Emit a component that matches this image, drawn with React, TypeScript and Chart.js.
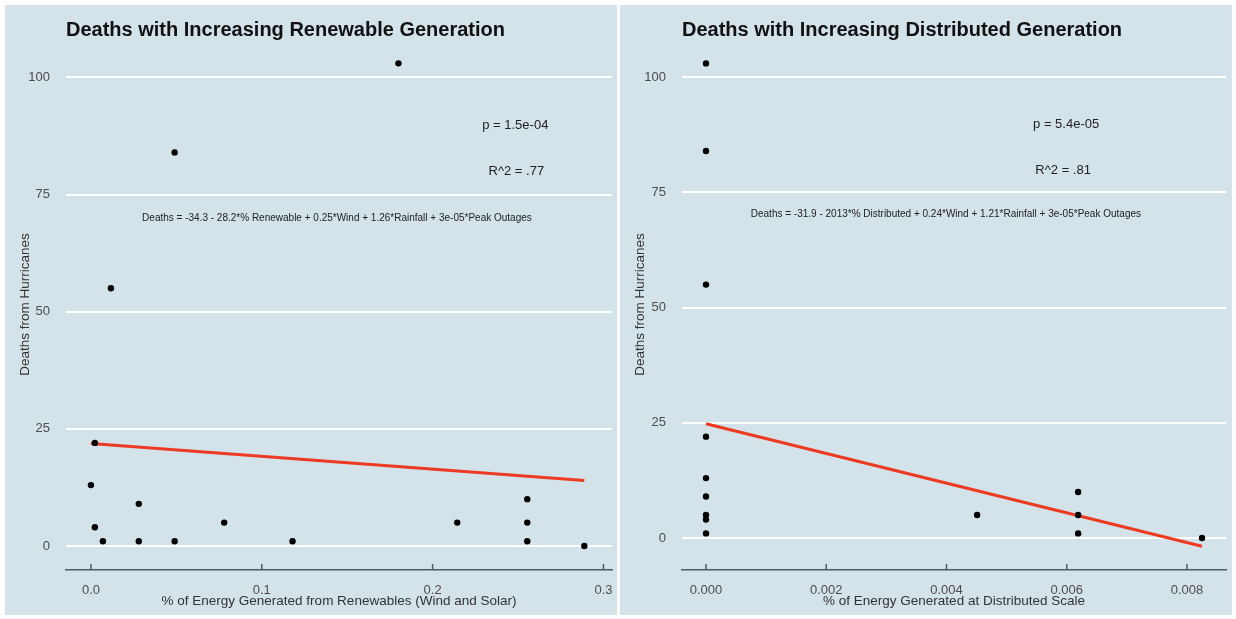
import React, { useEffect, useRef } from "react";
import { Chart, registerables } from "chart.js";
Chart.register(...registerables);

// ---------- data ----------
const renewShare = [0.18, 0.049, 0.0117, 0.0023, 0, 0.0023, 0.007, 0.028, 0.028, 0.049, 0.078, 0.118, 0.2144, 0.2554, 0.2554, 0.2554, 0.2888];
const renewDeaths = [103, 84, 55, 22, 13, 4, 1, 9, 1, 1, 5, 1, 5, 10, 5, 1, 0];
const renewFitX = [0, 0.2888];
const renewFitY = [21.9, 14.0];

const distShare = [0, 0, 0, 0, 0, 0, 0, 0, 0, 0.00451, 0.00619, 0.00619, 0.00619, 0.00825];
const distDeaths = [103, 84, 55, 22, 13, 9, 5, 4, 1, 5, 10, 5, 1, 0];
const distFitX = [0, 0.00825];
const distFitY = [24.8, -1.8];

const yTickValues = [0, 25, 50, 75, 100];
const renewXTicks = [0, 0.1, 0.2, 0.3];
const distXTicks = [0, 0.002, 0.004, 0.006, 0.008];

const renewTitle = "Deaths with Increasing Renewable Generation";
const distTitle = "Deaths with Increasing Distributed Generation";
const yTitle = "Deaths from Hurricanes";
const renewXTitle = "% of Energy Generated from Renewables (Wind and Solar)";
const distXTitle = "% of Energy Generated at Distributed Scale";

const renewNotes = [
  { text: "p = 1.5e-04", x: 0.2484, y: 89.8, size: 13 },
  { text: "R^2 = .77", x: 0.249, y: 80, size: 13 },
  { text: "Deaths = -34.3 - 28.2*% Renewable + 0.25*Wind + 1.26*Rainfall + 3e-05*Peak Outages", x: 0.144, y: 69.9, size: 10 },
];
const distNotes = [
  { text: "p = 5.4e-05", x: 0.00599, y: 89.8, size: 13 },
  { text: "R^2 = .81", x: 0.00594, y: 79.8, size: 13 },
  { text: "Deaths = -31.9 - 2013*% Distributed + 0.24*Wind + 1.21*Rainfall + 3e-05*Peak Outages", x: 0.00399, y: 70.3, size: 10 },
];

const FONT = "'Liberation Sans', Arial, Helvetica, sans-serif";
const PANEL_BG = "#d4e2e9";

type PanelCfg = {
  xs: number[];
  ys: number[];
  fitX: number[];
  fitY: number[];
  xTicks: number[];
  decimals: number;
  xMin: number;
  xMax: number;
  yMin: number;
  yMax: number;
  title: string;
  xTitle: string;
  notes: { text: string; x: number; y: number; size: number }[];
  yWidth: number;
  padRight: number;
};

function Panel({ cfg }: { cfg: PanelCfg }) {
  const ref = useRef<HTMLCanvasElement | null>(null);
  useEffect(() => {
    const deco = {
      id: "deco",
      afterDraw(chart: any) {
        const ctx = chart.ctx;
        const xs = chart.scales.x;
        const ysc = chart.scales.y;
        const area = chart.chartArea;
        ctx.save();
        // inward tick marks on x axis
        ctx.strokeStyle = "#4f5a63";
        ctx.lineWidth = 1.5;
        for (const t of cfg.xTicks) {
          const px = xs.getPixelForValue(t);
          ctx.beginPath();
          ctx.moveTo(px, area.bottom);
          ctx.lineTo(px, area.bottom - 6);
          ctx.stroke();
        }
        // title
        ctx.fillStyle = "#111";
        ctx.font = `bold 20px ${FONT}`;
        ctx.textAlign = "left";
        ctx.textBaseline = "middle";
        ctx.fillText(cfg.title, area.left, 25);
        // annotations
        ctx.fillStyle = "#222";
        ctx.textAlign = "center";
        for (const n of cfg.notes) {
          ctx.font = `${n.size}px ${FONT}`;
          ctx.fillText(n.text, xs.getPixelForValue(n.x), ysc.getPixelForValue(n.y));
        }
        ctx.restore();
      },
    };
    const chart = new Chart(ref.current as HTMLCanvasElement, {
      type: "scatter",
      data: {
        datasets: [
          {
            type: "scatter",
            data: cfg.xs.map((x, i) => ({ x, y: cfg.ys[i] })),
            pointRadius: 3.2,
            pointBackgroundColor: "#000",
            pointBorderWidth: 0,
            order: 1,
          } as any,
          {
            type: "line",
            data: cfg.fitX.map((x, i) => ({ x, y: cfg.fitY[i] })),
            borderColor: "#ee3a22",
            borderWidth: 3,
            pointRadius: 0,
            showLine: true,
            fill: false,
            order: 2,
          } as any,
        ],
      },
      options: {
        animation: false,
        responsive: false,
        devicePixelRatio: 1,
        layout: { padding: { top: 34, right: cfg.padRight, bottom: 0, left: 0 } },
        plugins: { legend: { display: false }, tooltip: { enabled: false } },
        scales: {
          x: {
            type: "linear",
            min: cfg.xMin,
            max: cfg.xMax,
            afterBuildTicks: (s: any) => {
              s.ticks = cfg.xTicks.map((v) => ({ value: v }));
            },
            afterFit: (s: any) => {
              s.height = 45;
              s.paddingLeft = 0;
              s.paddingRight = 0;
            },
            ticks: {
              callback: (v: any) => Number(v).toFixed(cfg.decimals),
              color: "#4d4d4d",
              font: { family: FONT, size: 13 },
              padding: 13,
              maxRotation: 0,
              autoSkip: false,
            },
            grid: { display: false, drawTicks: false },
            border: { display: true, color: "#4f5a63", width: 1.5 },
            title: {
              display: true,
              text: cfg.xTitle,
              color: "#333",
              font: { family: FONT, size: 13.5 },
              padding: { top: 0, bottom: 6 },
            },
          },
          y: {
            type: "linear",
            min: cfg.yMin,
            max: cfg.yMax,
            afterBuildTicks: (s: any) => {
              s.ticks = yTickValues.map((v) => ({ value: v }));
            },
            afterFit: (s: any) => {
              s.width = cfg.yWidth;
              s.paddingTop = 0;
              s.paddingBottom = 0;
            },
            ticks: {
              color: "#4d4d4d",
              font: { family: FONT, size: 13 },
              padding: 16,
            },
            grid: { color: "#ffffff", lineWidth: 2, drawTicks: false },
            border: { display: false },
            title: {
              display: true,
              text: yTitle,
              color: "#333",
              font: { family: FONT, size: 13.5 },
              padding: { top: 12, bottom: 0 },
            },
          },
        },
      } as any,
      plugins: [deco],
    });
    return () => chart.destroy();
  }, []);
  return (
    <canvas
      ref={ref}
      width={612}
      height={610}
      style={{ display: "block", width: 612, height: 610 }}
    />
  );
}

const leftCfg: PanelCfg = {
  xs: renewShare,
  ys: renewDeaths,
  fitX: renewFitX,
  fitY: renewFitY,
  xTicks: renewXTicks,
  decimals: 1,
  xMin: -0.0146,
  xMax: 0.305,
  yMin: -5.12,
  yMax: 108.2,
  title: renewTitle,
  xTitle: renewXTitle,
  notes: renewNotes,
  yWidth: 61,
  padRight: 5,
};

const rightCfg: PanelCfg = {
  xs: distShare,
  ys: distDeaths,
  fitX: distFitX,
  fitY: distFitY,
  xTicks: distXTicks,
  decimals: 3,
  xMin: -0.000399,
  xMax: 0.008649,
  yMin: -6.94,
  yMax: 108.3,
  title: distTitle,
  xTitle: distXTitle,
  notes: distNotes,
  yWidth: 62,
  padRight: 6,
};

export default function App() {
  return (
    <div
      style={{
        position: "fixed",
        left: 0,
        top: 0,
        width: 1236,
        height: 619,
        background: "#ffffff",
        overflow: "hidden",
      }}
    >
      <div style={{ position: "absolute", left: 5, top: 5, width: 612, height: 610, background: PANEL_BG }}>
        <Panel cfg={leftCfg} />
      </div>
      <div style={{ position: "absolute", left: 620, top: 5, width: 612, height: 610, background: PANEL_BG }}>
        <Panel cfg={rightCfg} />
      </div>
    </div>
  );
}
